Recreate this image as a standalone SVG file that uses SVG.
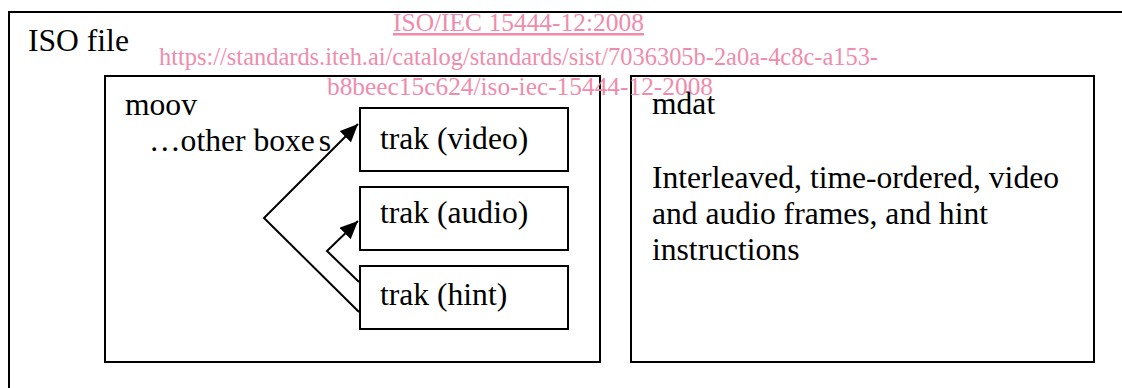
<svg xmlns="http://www.w3.org/2000/svg" width="1122" height="388" viewBox="0 0 1122 388">
  <style>
    .box { fill: #ffffff; stroke: #000000; stroke-width: 2; }
    .lbl { font-family: "Liberation Serif", "Times New Roman", serif; font-size: 31.6px; fill: #000000; }
    .wm { font-family: "Liberation Serif", "Times New Roman", serif; fill: #f08cab; }
    .edge { fill: none; stroke: #000000; stroke-width: 2; stroke-linejoin: miter; }
  </style>
  <defs>
    <marker id="arrow" markerUnits="userSpaceOnUse" markerWidth="20" markerHeight="16" refX="18" refY="8" orient="auto">
      <path d="M0,0 L18,8 L0,16 z" fill="#000000"/>
    </marker>
  </defs>
  <rect width="1122" height="388" fill="#ffffff"/>

  <!-- whole file container -->
  <g id="iso-file">
    <rect class="box" x="9" y="12" width="1200" height="500"/>
    <text class="lbl" x="28" y="51">ISO file</text>
  </g>

  <!-- movie box -->
  <g id="moov">
    <rect class="box" x="105" y="76" width="495" height="286"/>
    <text class="lbl" x="125" y="115">moov</text>
    <text class="lbl" x="149" y="151">…other boxe<tspan dx="4">s</tspan></text>
  </g>

  <!-- media data box -->
  <g id="mdat">
    <rect class="box" x="631" y="76" width="463" height="286"/>
    <text class="lbl" x="652" y="114">mdat</text>
    <text class="lbl" x="652" y="188">Interleaved, time-ordered, video</text>
    <text class="lbl" x="652" y="224">and audio frames, and hint</text>
    <text class="lbl" x="652" y="260">instructions</text>
  </g>

  <g id="trak-video">
    <rect class="box" x="360" y="108" width="208" height="63"/>
    <text class="lbl" x="380" y="149">trak (video)</text>
  </g>
  <g id="trak-audio">
    <rect class="box" x="360" y="187" width="208" height="63"/>
    <text class="lbl" x="380" y="223">trak (audio)</text>
  </g>
  <g id="trak-hint">
    <rect class="box" x="360" y="266" width="208" height="63"/>
    <text class="lbl" x="380" y="305">trak (hint)</text>
  </g>

  <!-- hint track references -->
  <g id="connectors">
    <path class="edge" d="M359,312 L264,218 L358,124" marker-end="url(#arrow)"/>
    <path class="edge" d="M359,282 L327,251 L358,221" marker-end="url(#arrow)"/>
  </g>

  <!-- catalogue stamp -->
  <g id="stamp">
    <text class="wm" x="393" y="31" font-size="25.5" text-decoration="underline" textLength="251" lengthAdjust="spacingAndGlyphs">ISO/IEC 15444-12:2008</text>
    <text class="wm" x="159" y="65" font-size="24.5" textLength="719" lengthAdjust="spacingAndGlyphs">https://standards.iteh.ai/catalog/standards/sist/7036305b-2a0a-4c8c-a153-</text>
    <text class="wm" x="327" y="95" font-size="25.4" textLength="386" lengthAdjust="spacingAndGlyphs">b8beec15c624/iso-iec-15444-12-2008</text>
  </g>
</svg>
